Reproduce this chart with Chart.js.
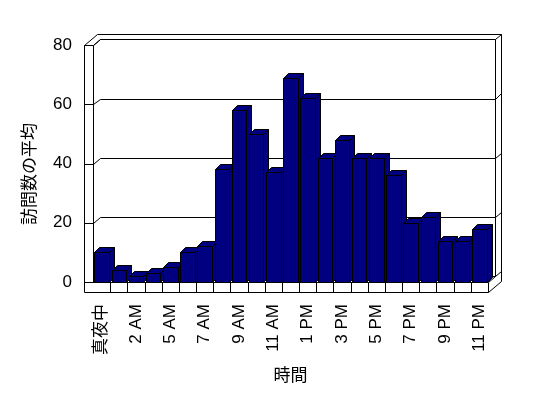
<!DOCTYPE html>
<html>
<head>
<meta charset="utf-8">
<script src="https://cdn.jsdelivr.net/npm/chart.js@4/dist/chart.umd.min.js"></script>
<style>
  html, body { margin: 0; padding: 0; background: #fff; }
  canvas { display: block; }
</style>
</head>
<body>
<canvas id="chart" width="548" height="398"></canvas>
<script>
// 時間ごとの訪問数の平均
const hourLabels = ['真夜中', '', '2 AM', '', '5 AM', '', '7 AM', '', '9 AM', '', '11 AM', '',
  '1 PM', '', '3 PM', '', '5 PM', '', '7 PM', '', '9 PM', '', '11 PM'];
const visits = [10, 4, 2, 3, 5, 10, 12, 38, 58, 50, 37, 69, 62, 42, 48, 42, 42, 36, 20, 22, 14, 14, 18];
const yTicks = [0, 20, 40, 60, 80];

const FONT = '"Liberation Sans", "Noto Sans CJK JP", sans-serif';
const NAVY = '#000080';

// 3D look (pixels)
const WALL = 9;               // left wall front width
const FLOOR = 10;             // floor thickness
const D1 = { x: 6.7, y: -5.7 };  // back wall inner face offset
const D2 = { x: 13.4, y: -11 };  // back wall outer face offset
const BD = { x: 5, y: -5 };      // bar depth

const px = v => Math.round(v) + 0.5;

function line(ctx, pts) {
  ctx.beginPath();
  pts.forEach((p, i) => i ? ctx.lineTo(px(p[0]), px(p[1])) : ctx.moveTo(px(p[0]), px(p[1])));
  ctx.stroke();
}

function poly(ctx, pts) {
  ctx.beginPath();
  pts.forEach((p, i) => i ? ctx.lineTo(px(p[0]), px(p[1])) : ctx.moveTo(px(p[0]), px(p[1])));
  ctx.closePath();
  ctx.fill();
  ctx.stroke();
}

// walls, floor and gridlines
const wallsPlugin = {
  id: 'walls',
  beforeDatasetsDraw(chart) {
    const { ctx, chartArea: ca, scales } = chart;
    const L = ca.left, R = ca.right, T = ca.top, B = ca.bottom;
    ctx.save();
    ctx.strokeStyle = '#000';
    ctx.lineWidth = 1;

    // gridlines on back wall + ticks on left wall
    yTicks.forEach(v => {
      const y = scales.y.getPixelForValue(v);
      line(ctx, [[L - WALL, y], [L, y], [L + D1.x, y + D1.y], [R + D1.x, y + D1.y], [R + D2.x, y + D2.y]]);
    });

    // left wall
    line(ctx, [[L - WALL, B + FLOOR], [L - WALL, T], [L, T], [L, B]]);
    line(ctx, [[L - WALL, T], [L - WALL + D2.x, T + D2.y], [R + D2.x, T + D2.y], [R + D2.x, B + FLOOR + D2.y]]);
    line(ctx, [[L, T], [L + D1.x, T + D1.y], [R + D1.x, T + D1.y], [R + D1.x, B + D1.y]]);

    // floor
    line(ctx, [[L - WALL, B], [R, B], [R, B + FLOOR], [L - WALL, B + FLOOR]]);
    line(ctx, [[R, B], [R + D1.x, B + D1.y]]);
    line(ctx, [[R, B + FLOOR], [R + D2.x, B + FLOOR + D2.y]]);
    const catW = (R - L) / hourLabels.length;
    for (let i = 1; i < hourLabels.length; i++) {
      const x = L + i * catW;
      line(ctx, [[x, B], [x, B + FLOOR]]);
    }
    ctx.restore();
  },
  afterDatasetsDraw(chart) {
    const { ctx } = chart;
    const meta = chart.getDatasetMeta(0);
    ctx.save();
    ctx.fillStyle = NAVY;
    ctx.strokeStyle = '#000';
    ctx.lineWidth = 1;
    meta.data.forEach(bar => {
      const { x, y, base, width } = bar.getProps(['x', 'y', 'base', 'width'], true);
      const l = x - width / 2, r = x + width / 2;
      // side
      poly(ctx, [[r, y], [r + BD.x, y + BD.y], [r + BD.x, base + BD.y], [r, base]]);
      // top
      poly(ctx, [[l, y], [l + BD.x, y + BD.y], [r + BD.x, y + BD.y], [r, y]]);
      // front
      poly(ctx, [[l, y], [r, y], [r, base], [l, base]]);
    });
    ctx.restore();
  },
  afterDraw(chart) {
    const { ctx } = chart;
    ctx.save();
    ctx.translate(30, 174);
    ctx.rotate(-Math.PI / 2);
    ctx.font = '17px ' + FONT;
    ctx.fillStyle = '#000';
    ctx.textAlign = 'center';
    ctx.textBaseline = 'middle';
    ctx.fillText('訪問数の平均', 0, 0);
    ctx.restore();
  }
};

new Chart(document.getElementById('chart'), {
  type: 'bar',
  data: {
    labels: hourLabels,
    datasets: [{
      label: '訪問数の平均',
      data: visits,
      backgroundColor: 'rgba(0,0,0,0)',
      borderWidth: 0,
      barPercentage: 0.845,
      categoryPercentage: 1
    }]
  },
  options: {
    responsive: false,
    animation: false,
    devicePixelRatio: 1,
    layout: { padding: { left: 0, right: 60, top: 45, bottom: 0 } },
    plugins: {
      legend: { display: false },
      tooltip: { enabled: false }
    },
    scales: {
      x: {
        grid: { display: false, drawTicks: false },
        border: { display: false },
        ticks: {
          autoSkip: false,
          maxRotation: 90,
          minRotation: 90,
          padding: 22,
          color: '#000',
          font: { family: FONT, size: 17 }
        },
        title: {
          display: true,
          text: '時間',
          color: '#000',
          padding: { top: 0, bottom: 11 },
          font: { family: FONT, size: 17 }
        },
        afterFit: scale => { scale.height = 116; }
      },
      y: {
        min: 0,
        max: 80,
        grid: { display: false, drawTicks: false },
        border: { display: false },
        ticks: {
          stepSize: 20,
          padding: 21,
          color: '#000',
          font: { family: FONT, size: 17 }
        },
        afterFit: scale => { scale.width = 93; }
      }
    }
  },
  plugins: [wallsPlugin]
});
</script>
</body>
</html>
